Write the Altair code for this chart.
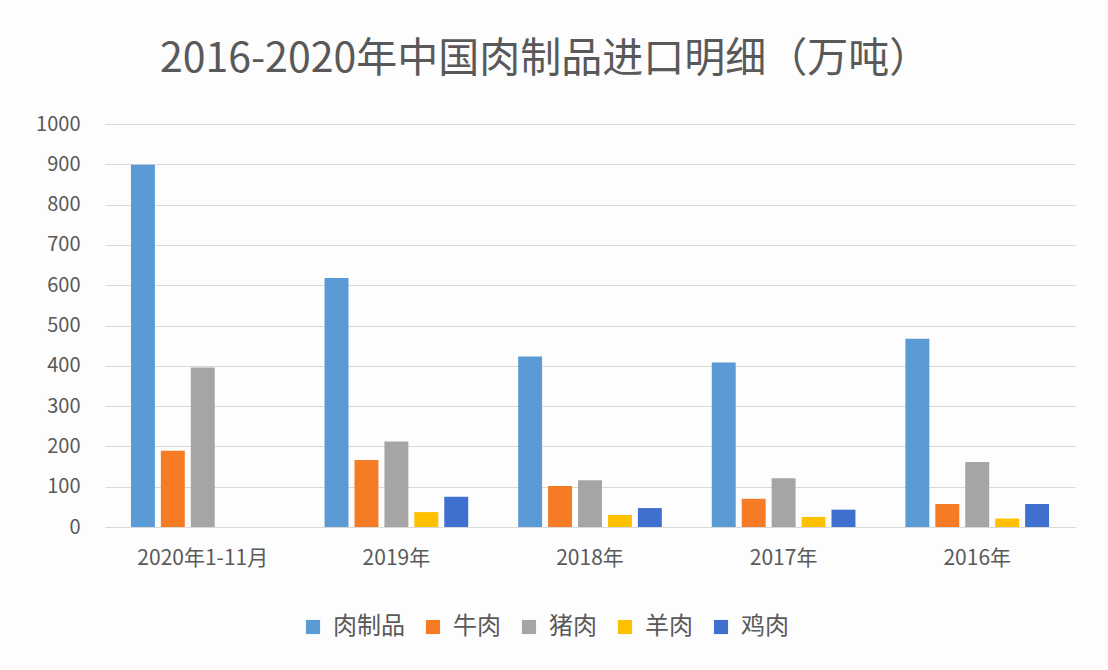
import altair as alt
import pandas as pd

categories = ["2020年1-11月", "2019年", "2018年", "2017年", "2016年"]
series = ["肉制品", "牛肉", "猪肉", "羊肉", "鸡肉"]
colors = ["#5B9BD5", "#F57C25", "#A5A5A5", "#FFC000", "#3F70CF"]

meat_products = [899, 618, 423, 408, 467]
beef = [189, 166, 102, 70, 57]
pork = [396, 212, 116, 121, 161]
mutton = [None, 37, 30, 25, 21]
chicken = [None, 75, 47, 43, 57]

rows = []
for s, vals in zip(series, [meat_products, beef, pork, mutton, chicken]):
    for c, v in zip(categories, vals):
        if v is not None:
            rows.append({"year": c, "type": s, "value": v})
df = pd.DataFrame(rows)

font = "Noto Sans CJK SC"

chart = alt.Chart(df).mark_bar().encode(
    x=alt.X("year:N", sort=categories, title=None,
            scale=alt.Scale(paddingInner=0.258, paddingOuter=0.134),
            axis=alt.Axis(labelAngle=0, labelFontSize=21, labelColor="#595959",
                          labelFont=font, ticks=False, domainColor="#D9D9D9",
                          labelPadding=20)),
    xOffset=alt.XOffset("type:N", sort=series,
                        scale=alt.Scale(domain=series, paddingInner=0.2, paddingOuter=0)),
    y=alt.Y("value:Q", title=None,
            scale=alt.Scale(domain=[0, 1000]),
            axis=alt.Axis(values=list(range(0, 1001, 100)), format="d", labelFontSize=20,
                          labelColor="#595959", labelFont=font, ticks=False,
                          domain=False, gridColor="#D9D9D9", labelPadding=25)),
    color=alt.Color("type:N", sort=series,
                    scale=alt.Scale(domain=series, range=colors),
                    legend=alt.Legend(title=None, orient="none", direction="horizontal",
                                      legendX=196, legendY=491,
                                      symbolType="square", symbolSize=200,
                                      symbolStrokeWidth=0,
                                      labelFontSize=24, labelColor="#595959",
                                      labelFont=font, columnPadding=16,
                                      labelOffset=8)),
).properties(
    width=970, height=403,
    title=alt.TitleParams("2016-2020年中国肉制品进口明细（万吨）", fontSize=41,
                          font=font, fontWeight="normal", color="#595959",
                          anchor="middle", dx=-45, offset=33),
    autosize=alt.AutoSizeParams(type="none"),
    padding={"left": 105, "top": 124, "right": 33, "bottom": 143},
    background="#FDFDFD",
).configure_view(stroke=None)

chart.save("out.html", embed_options={"renderer": "svg", "actions": False})
